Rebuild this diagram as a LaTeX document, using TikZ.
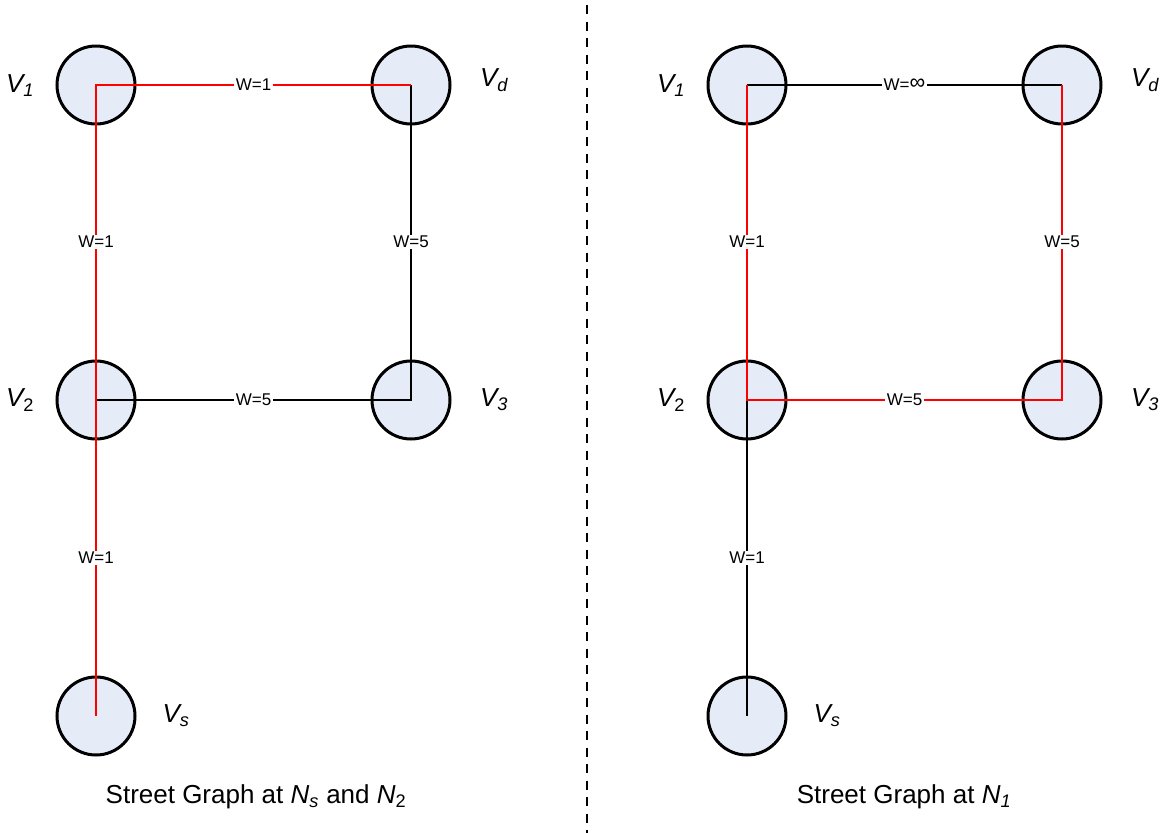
\documentclass[tikz,border=0pt]{standalone}
\usepackage{fontspec}
\setmainfont{Liberation Sans}
\definecolor{nodefill}{RGB}{230,236,247}
\definecolor{pathred}{RGB}{255,0,0}
\begin{document}
\begin{tikzpicture}[x=1pt,y=-1pt,
  vertex/.style={circle,draw=black,line width=3pt,fill=nodefill,minimum size=78pt,inner sep=0pt},
  vlabel/.style={font=\fontsize{26}{28}\selectfont\itshape,inner sep=0pt},
  wlabel/.style={font=\fontsize{17}{19}\selectfont,fill=white,inner sep=1.5pt},
  redpath/.style={draw=pathred,line width=2.7pt},
  blackpath/.style={draw=black,line width=2.7pt},
  caption/.style={font=\fontsize{26}{28}\selectfont,inner sep=0pt}]
\useasboundingbox (0,0) rectangle (1171,833);
% divider
\coordinate (dtop) at (587,5);
\coordinate (dbot) at (587,833);
\draw[line width=2.6pt,dash pattern=on 9pt off 7.5pt] (dtop) -- (dbot);

% ---------- left graph ----------
\node[vertex] (L1) at (96,85) {};
\node[vertex] (Ld) at (411,85) {};
\node[vertex] (L2) at (96,400) {};
\node[vertex] (L3) at (411,400) {};
\node[vertex] (Ls) at (96,716) {};
\node[vlabel] (lL1) at (20,86) {V\textsubscript{1}};
\node[vlabel] (lLd) at (494,80) {V\textsubscript{d}};
\node[vlabel] (lL2) at (20,400) {V\textsubscript{\upshape 2}};
\node[vlabel] (lL3) at (494,400) {V\textsubscript{3}};
\node[vlabel] (lLs) at (176,716) {V\textsubscript{s}};

\draw[blackpath] (Ld.center) -- (L3.center) -- (L2.center);
\draw[redpath] (Ls.center) -- (L1.center) -- (Ld.center);

\node[wlabel] (wL1d) at (253.5,85) {W=1};
\node[wlabel] (wL12) at (96,242) {W=1};
\node[wlabel] (wLd3) at (411,242) {W=5};
\node[wlabel] (wL23) at (253.5,400) {W=5};
\node[wlabel] (wL2s) at (96,558) {W=1};

\node[caption] (capL) at (256,797) {Street Graph at \textit{N}\textsubscript{\textit{s}} and \textit{N}\textsubscript{2}};

% ---------- right graph ----------
\node[vertex] (R1) at (747,85) {};
\node[vertex] (Rd) at (1062,85) {};
\node[vertex] (R2) at (747,400) {};
\node[vertex] (R3) at (1062,400) {};
\node[vertex] (Rs) at (747,716) {};
\node[vlabel] (lR1) at (671,86) {V\textsubscript{1}};
\node[vlabel] (lRd) at (1145,80) {V\textsubscript{d}};
\node[vlabel] (lR2) at (671,400) {V\textsubscript{\upshape 2}};
\node[vlabel] (lR3) at (1145,400) {V\textsubscript{3}};
\node[vlabel] (lRs) at (827,716) {V\textsubscript{s}};

\draw[blackpath] (R1.center) -- (Rd.center);
\draw[blackpath] (R2.center) -- (Rs.center);
\draw[redpath] (R1.center) -- (R2.center) -- (R3.center) -- (Rd.center);

\node[wlabel] (wR1d) at (904.5,85) {W=\raisebox{1pt}{\fontsize{22}{22}\selectfont ∞}};
\node[wlabel] (wR12) at (747,242) {W=1};
\node[wlabel] (wRd3) at (1062,242) {W=5};
\node[wlabel] (wR23) at (904.5,400) {W=5};
\node[wlabel] (wR2s) at (747,558) {W=1};

\node[caption] (capR) at (904,797) {Street Graph at \textit{N}\textsubscript{\textit{1}}};
\end{tikzpicture}
\end{document}
